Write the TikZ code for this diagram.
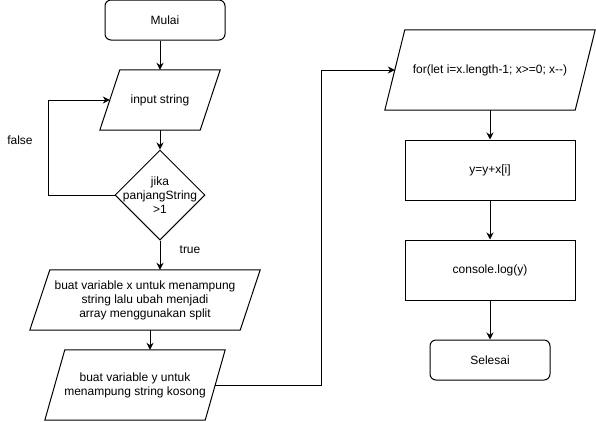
\documentclass[tikz,border=0pt]{standalone}
\usepackage{fontspec}
\setmainfont{Liberation Sans}
\usetikzlibrary{positioning,shapes.geometric,arrows.meta,calc}
\tikzset{>={Stealth[length=7pt,width=7pt]}}
\tikzset{
  every node/.style={font=\fontsize{12}{14}\selectfont,align=center},
  terminal/.style={draw,line width=1pt,rounded corners=6pt,minimum width=120pt,minimum height=40pt,inner sep=0pt},
  process/.style={draw,line width=1pt,minimum width=170pt,minimum height=60pt,inner sep=0pt},
  decision/.style={draw,line width=1pt,diamond,minimum width=90pt,minimum height=90pt,inner sep=0pt},
  data/.style={minimum width=#1,inner sep=0pt},
  flow/.style={->,line width=1pt}
}
\newcommand\dataframe[1]{\draw[line width=1pt] ([xshift=10pt]#1.north west) -- ([xshift=10pt]#1.north east) -- ([xshift=-10pt]#1.south east) -- ([xshift=-10pt]#1.south west) -- cycle;}

\begin{document}
\begin{tikzpicture}[x=1pt,y=-1pt]
\useasboundingbox (0,0) rectangle (596,421);
\node[terminal] (mulai) at (165,20) {Mulai};
\node[data=100pt,minimum height=60pt] (input) at (160,100) {input string};
\node[decision] (cek) at (160,195) {};
\node at (cek) {jika\\panjangString\\>1};
\node[data=210pt,minimum height=60pt] (varx) at (145,300) {buat variable x untuk menampung\\string lalu ubah menjadi\\array menggunakan split};
\node[data=160pt,minimum height=70pt] (vary) at (135,385) {buat variable y untuk\\menampung string kosong};
\node[data=190pt,minimum height=80pt] (loop) at (490,70) {for(let i=x.length-1; x>=0; x-{}-)};
\dataframe{input}
\dataframe{varx}
\dataframe{vary}
\dataframe{loop}
\node[process] (tambah) at (490,170) {y=y+x[i]};
\node[process] (cetak) at (490,270) {console.log(y)};
\node[terminal] (selesai) at (490,360) {Selesai};
\node (false) at (20,140) {false};
\node (true) at (190,250) {true};
\draw[flow] (mulai.south -| input.north) -- (input.north);
\draw[flow] (input.south -| cek.north) -- (cek.north);
\draw[flow] (cek.west) -- ++(-66,0) |- (input.west);
\draw[flow] (cek.south) -- (cek.south |- varx.north);
\draw[flow] ([xshift=5pt]varx.south) -- ([xshift=5pt]varx.south |- vary.north);
\draw[flow] (vary.east) -- ++(106,0) |- (loop.west);
\draw[flow] (loop.south) -- (tambah.north);
\draw[flow] (tambah.south) -- (cetak.north);
\draw[flow] (cetak.south) -- (selesai.north);
\end{tikzpicture}
\end{document}
